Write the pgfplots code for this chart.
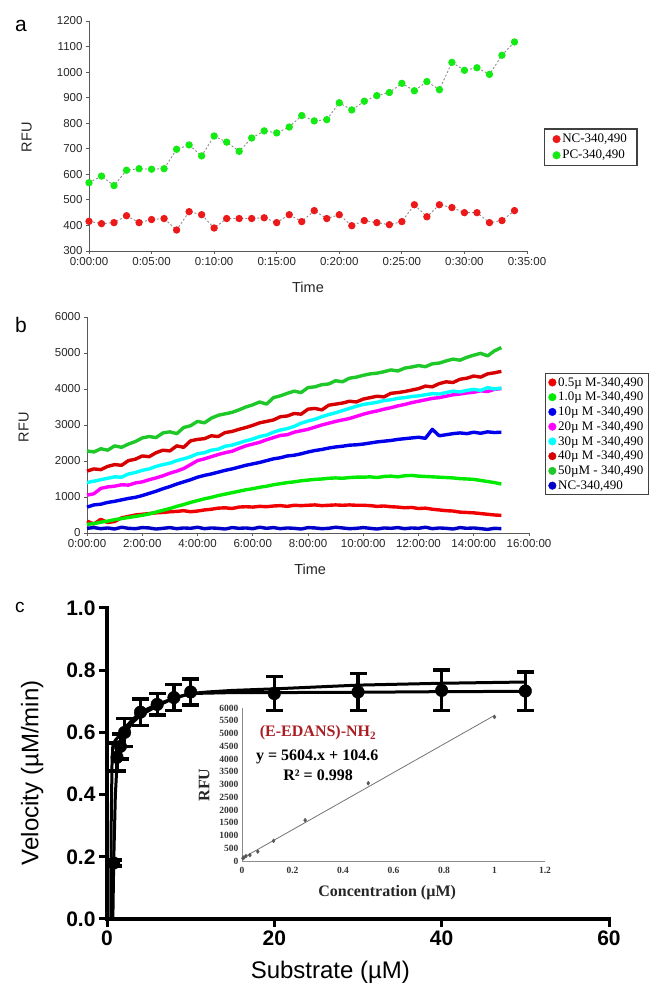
\documentclass[border=0pt]{standalone}
\usepackage{pgfplots}
\usepackage{pgfplotstable}
\pgfplotsset{compat=1.18}
\usepackage{fontspec}
\setmainfont{Liberation Sans}
\newfontfamily\tnr{Liberation Serif}

\definecolor{nred}{RGB}{235,25,25}
\definecolor{ngreen}{RGB}{20,235,20}
\definecolor{c05}{RGB}{240,0,0}
\definecolor{c1}{RGB}{0,235,0}
\definecolor{c10}{RGB}{0,0,235}
\definecolor{c20}{RGB}{255,0,255}
\definecolor{c30}{RGB}{0,255,255}
\definecolor{c40}{RGB}{215,0,0}
\definecolor{c50}{RGB}{30,200,40}
\definecolor{cnc}{RGB}{0,0,200}
\definecolor{edans}{RGB}{170,30,35}

% panel a: minutes, NC and PC
\pgfplotstableread{
t nc pc
0 416 567
1 407 593
2 411 556
3 438 616
4 411 622
5 423 620
6 427 622
7 382 698
8 454 715
9 442 672
10 390 750
11 427 726
12 427 690
13 427 742
14 430 770
15 411 762
16 442 785
17 415 830
18 458 809
19 427 814
20 442 880
21 399 852
22 419 886
23 411 908
24 403 920
25 415 956
26 481 927
27 434 963
28 481 931
29 470 1038
30 450 1007
31 450 1017
32 411 991
33 419 1066
34 458 1118
}\adata

% panel b: hours
\pgfplotstableread{
t a05 a1 a10 a20 a30 a40 a50 nc
0.00 330 240 720 1050 1400 1720 2280 130
0.25 250 260 780 1090 1440 1780 2250 150
0.50 380 300 800 1240 1480 1760 2340 120
0.75 290 330 850 1280 1520 1850 2300 140
1.00 320 370 880 1300 1560 1900 2420 110
1.25 420 400 920 1340 1550 1880 2380 160
1.50 460 430 960 1330 1640 2010 2470 130
1.75 500 460 990 1390 1680 2050 2540 120
2.00 520 490 1040 1420 1740 2140 2640 150
2.25 540 530 1100 1480 1780 2120 2680 140
2.50 560 580 1160 1530 1850 2230 2650 110
2.75 570 630 1230 1590 1900 2300 2780 130
3.00 590 680 1290 1660 1940 2280 2810 150
3.25 600 740 1360 1720 2010 2420 2760 120
3.50 620 790 1420 1790 2060 2380 2930 140
3.75 590 850 1480 1900 2120 2560 2980 130
4.00 610 900 1550 2010 2200 2600 3100 160
4.25 640 950 1600 2060 2230 2620 3060 120
4.50 660 990 1640 2120 2300 2700 3190 140
4.75 690 1040 1690 2180 2330 2680 3270 130
5.00 700 1080 1740 2230 2410 2790 3310 110
5.25 680 1120 1780 2270 2440 2820 3350 150
5.50 720 1160 1830 2350 2500 2880 3420 130
5.75 730 1200 1880 2420 2560 2930 3500 140
6.00 720 1230 1920 2470 2610 2990 3560 120
6.25 740 1270 1960 2520 2680 3060 3640 160
6.50 730 1300 2010 2590 2720 3100 3580 130
6.75 750 1340 2060 2650 2800 3140 3760 150
7.00 760 1370 2090 2710 2860 3230 3810 120
7.25 740 1400 2140 2730 2900 3250 3880 140
7.50 770 1420 2160 2800 2960 3320 3940 130
7.75 760 1450 2200 2840 3050 3300 3900 110
8.00 770 1470 2250 2880 3110 3440 4040 150
8.25 780 1490 2290 2940 3160 3460 4060 140
8.50 760 1500 2320 3000 3230 3420 4120 120
8.75 770 1520 2360 3050 3290 3550 4140 130
9.00 780 1530 2390 3100 3340 3580 4230 160
9.25 770 1520 2410 3140 3400 3610 4200 140
9.50 780 1540 2440 3180 3460 3660 4300 120
9.75 770 1550 2450 3240 3520 3640 4330 130
10.00 770 1550 2470 3300 3570 3720 4380 150
10.25 760 1560 2500 3350 3600 3760 4420 130
10.50 740 1540 2530 3390 3630 3800 4440 110
10.75 750 1570 2550 3440 3680 3780 4480 140
11.00 730 1580 2570 3480 3700 3880 4530 130
11.25 720 1560 2600 3530 3740 3900 4500 150
11.50 700 1590 2620 3570 3760 3930 4580 120
11.75 710 1600 2640 3620 3790 3970 4610 140
12.00 680 1580 2660 3660 3810 4010 4650 130
12.25 690 1570 2630 3700 3840 4080 4620 160
12.50 660 1560 2880 3740 3870 4060 4700 120
12.75 640 1550 2700 3760 3860 4150 4720 140
13.00 620 1540 2730 3800 3900 4200 4780 130
13.25 610 1530 2760 3840 3940 4180 4830 110
13.50 580 1510 2780 3860 3920 4270 4800 150
13.75 570 1500 2760 3890 3960 4300 4880 130
14.00 560 1490 2800 3910 3990 4360 4940 140
14.25 540 1460 2770 3950 3960 4330 4990 120
14.50 520 1430 2810 3930 4040 4420 4920 100
14.75 500 1400 2790 3990 4000 4450 5060 130
15.00 490 1360 2800 4010 4030 4490 5150 120
}\bdata

\begin{document}
\begin{tikzpicture}
\useasboundingbox (0,0) rectangle (666pt,998pt);

\node[font=\fontsize{21}{22}\selectfont] at (21pt,972pt) {a};
\node[font=\fontsize{21}{22}\selectfont] at (21pt,673pt) {b};
\node[font=\fontsize{19}{20}\selectfont] at (20pt,391pt) {c};

% ---------------- panel a
\begin{axis}[
	at={(89pt,747pt)}, anchor=south west,
	scale only axis, width=438pt, height=230pt,
	xmin=0, xmax=35, ymin=300, ymax=1200,
	axis x line=bottom, axis y line=left,
	axis line style={-, black!65, line width=0.9pt},
	tick align=outside, major tick length=3pt,
	tick style={black!65, line width=0.8pt},
	xtick={0,5,...,35},
	xticklabels={0:00:00,0:05:00,0:10:00,0:15:00,0:20:00,0:25:00,0:30:00,0:35:00},
	ytick={300,400,...,1200},
	yticklabels={300,400,500,600,700,800,900,1000,1100,1200},
	tick label style={font=\fontsize{11.5}{12}\selectfont, text=black!85},
	xlabel={Time}, ylabel={RFU},
	label style={font=\fontsize{14.5}{16}\selectfont, text=black!85},
	xlabel style={at={(axis description cs:0.5,-0.158)}, anchor=center},
	ylabel style={at={(axis description cs:-0.142,0.494)}, anchor=center},
	legend style={at={(1.039,0.533)}, anchor=north west, draw=black!75,
		line width=1.3pt, font=\tnr\fontsize{13}{14}\selectfont,
		inner xsep=8pt, inner ysep=3pt, row sep=2pt},
	legend cell align=left,
	clip=false,
]
\addplot[forget plot, black!45, line width=0.9pt, dash pattern=on 2pt off 2pt,
	mark=*, mark size=3.2pt, mark options={solid, fill=nred, draw=nred}]
	table[x=t, y=nc] {\adata};
\addplot[forget plot, black!45, line width=0.9pt, dash pattern=on 2pt off 2pt,
	mark=*, mark size=3.2pt, mark options={solid, fill=ngreen, draw=ngreen}]
	table[x=t, y=pc] {\adata};
\addlegendimage{only marks, mark=*, mark size=3.8pt, nred, line width=0.4pt}
\addlegendentry{NC-340,490}
\addlegendimage{only marks, mark=*, mark size=3.8pt, ngreen, line width=0.4pt}
\addlegendentry{PC-340,490}
\end{axis}

% ---------------- panel b
\begin{axis}[
	at={(87pt,465pt)}, anchor=south west,
	scale only axis, width=442pt, height=216pt,
	xmin=0, xmax=16, ymin=0, ymax=6000,
	axis x line=bottom, axis y line=left,
	axis line style={-, black!65, line width=0.9pt},
	tick align=outside, major tick length=3pt,
	tick style={black!65, line width=0.8pt},
	xtick={0,2,...,16},
	xticklabels={0:00:00,2:00:00,4:00:00,6:00:00,8:00:00,10:00:00,12:00:00,14:00:00,16:00:00},
	ytick={0,1000,...,6000},
	yticklabels={0,1000,2000,3000,4000,5000,6000},
	tick label style={font=\fontsize{11.5}{12}\selectfont, text=black!85},
	xlabel={Time}, ylabel={RFU},
	label style={font=\fontsize{14.5}{16}\selectfont, text=black!85},
	xlabel style={at={(axis description cs:0.505,-0.167)}, anchor=center},
	ylabel style={at={(axis description cs:-0.143,0.49)}, anchor=center},
	legend style={at={(1.036,0.742)}, anchor=north west, draw=black!75,
		line width=1.3pt, font=\tnr\fontsize{13}{14}\selectfont,
		inner xsep=3pt, inner ysep=2pt, row sep=0.6pt},
	legend cell align=left,
	clip=false,
	every axis plot/.append style={forget plot, line width=3.4pt, line join=round},
]
\addplot[c05] table[x=t, y=a05] {\bdata};
\addplot[c1] table[x=t, y=a1] {\bdata};
\addplot[c10] table[x=t, y=a10] {\bdata};
\addplot[c20] table[x=t, y=a20] {\bdata};
\addplot[c30] table[x=t, y=a30] {\bdata};
\addplot[c40] table[x=t, y=a40] {\bdata};
\addplot[c50] table[x=t, y=a50] {\bdata};
\addplot[cnc] table[x=t, y=nc] {\bdata};
\addlegendimage{only marks, mark=*, mark size=3.8pt, c05, line width=0.4pt}
\addlegendentry{0.5µ M-340,490}
\addlegendimage{only marks, mark=*, mark size=3.8pt, c1, line width=0.4pt}
\addlegendentry{1.0µ M-340,490}
\addlegendimage{only marks, mark=*, mark size=3.8pt, c10, line width=0.4pt}
\addlegendentry{10µ M -340,490}
\addlegendimage{only marks, mark=*, mark size=3.8pt, c20, line width=0.4pt}
\addlegendentry{20µ M -340,490}
\addlegendimage{only marks, mark=*, mark size=3.8pt, c30, line width=0.4pt}
\addlegendentry{30µ M -340,490}
\addlegendimage{only marks, mark=*, mark size=3.8pt, c40, line width=0.4pt}
\addlegendentry{40µ M -340,490}
\addlegendimage{only marks, mark=*, mark size=3.8pt, c50, line width=0.4pt}
\addlegendentry{50µM - 340,490}
\addlegendimage{only marks, mark=*, mark size=3.8pt, cnc, line width=0.4pt}
\addlegendentry{NC-340,490}
\end{axis}

% ---------------- panel c
\begin{axis}[
	at={(107pt,79pt)}, anchor=south west,
	scale only axis, width=502pt, height=311pt,
	xmin=0, xmax=60, ymin=0, ymax=1,
	axis x line=bottom, axis y line=left,
	axis line style={-, black, line width=3.5pt, line cap=rect},
	tick align=outside, major tick length=8pt,
	tick style={black, line width=3pt},
	xtick={0,20,40,60}, xticklabels={0,20,40,60},
	ytick={0,0.2,0.4,0.6,0.8,1}, yticklabels={0.0,0.2,0.4,0.6,0.8,1.0},
	tick label style={font=\fontsize{21}{22}\selectfont\bfseries},
	xlabel={Substrate (µM)}, ylabel={Velocity (µM/min)},
	label style={font=\fontsize{24}{26}\selectfont},
	xlabel style={at={(axis description cs:0.445,-0.17)}, anchor=center},
	ylabel style={at={(axis description cs:-0.149,0.47)}, anchor=center},
	clip=false,
]
\addplot[black, line width=3pt, line join=round] coordinates {
	(0.45,0) (0.5,0.3) (0.6,0.5) (0.7,0.56) (1,0.575) (1.5,0.59) (2,0.61)
	(3,0.64) (4,0.665) (6,0.69) (8,0.71) (10,0.725) (12,0.73) (15,0.735)
	(20,0.74) (30,0.752) (40,0.758) (50,0.762)
};
\addplot[black, line width=3pt, line join=round] coordinates {
	(0.7,0) (0.8,0.18) (1.0,0.4) (1.2,0.5) (1.6,0.55) (2,0.59) (3,0.63)
	(4,0.655) (6,0.685) (8,0.71) (10,0.725) (15,0.728) (20,0.728)
	(30,0.729) (40,0.731) (50,0.732)
};
% mean velocities with SD bars
\addplot[only marks, mark=*, mark size=6.3pt, black,
	error bars/.cd, y dir=both, y explicit, error mark=none,
	error bar style={line width=3.2pt, black}]
coordinates {
	(0.8,0.18) +- (0,0.01)
	(1.2,0.52) +- (0,0.045)
	(1.6,0.555) +- (0,0.04)
	(2.1,0.60) +- (0,0.045)
	(4,0.665) +- (0,0.043)
	(6,0.69) +- (0,0.035)
	(8,0.712) +- (0,0.042)
	(10,0.73) +- (0,0.042)
	(20,0.725) +- (0,0.055)
	(30,0.73) +- (0,0.06)
	(40,0.735) +- (0,0.065)
	(50,0.733) +- (0,0.062)
};
% caps at mean +/- SD
\addplot[only marks, mark=-, mark size=8.5pt, black, mark options={line width=3.6pt}]
coordinates {
	(0.8,0.19) (0.8,0.17)
	(1.2,0.565) (1.2,0.475)
	(1.6,0.595) (1.6,0.515)
	(2.1,0.645) (2.1,0.555)
	(4,0.708) (4,0.622)
	(6,0.725) (6,0.655)
	(8,0.754) (8,0.67)
	(10,0.772) (10,0.688)
	(20,0.78) (20,0.67)
	(30,0.79) (30,0.67)
	(40,0.80) (40,0.67)
	(50,0.795) (50,0.671)
};
\end{axis}

% ---------------- inset
\begin{axis}[
	at={(242pt,137pt)}, anchor=south west,
	scale only axis, width=303pt, height=153pt,
	xmin=0, xmax=1.2, ymin=0, ymax=6000,
	axis x line=bottom, axis y line=left,
	axis line style={-, black!45, line width=0.9pt},
	major tick length=0pt,
	xtick={0,0.2,0.4,0.6,0.8,1,1.2}, xticklabels={0,0.2,0.4,0.6,0.8,1,1.2},
	ytick={0,500,...,6000},
	yticklabels={0,500,1000,1500,2000,2500,3000,3500,4000,4500,5000,5500,6000},
	tick label style={font=\tnr\bfseries\fontsize{9.5}{10}\selectfont, text=black!80},
	xticklabel style={yshift=-3pt},
	xlabel={Concentration (µM)}, ylabel={RFU},
	label style={font=\tnr\bfseries\fontsize{16}{17}\selectfont, text=black!85},
	xlabel style={at={(axis description cs:0.479,-0.209)}, anchor=center},
	ylabel style={at={(axis description cs:-0.125,0.497)}, anchor=center},
	clip=false,
]
\addplot[black!55, line width=0.8pt] coordinates {(0,104.6) (1,5708.6)};
\addplot[only marks, mark=diamond*, mark size=2pt, black!65] coordinates {
	(0.0039,110) (0.0078,140) (0.0156,190) (0.03125,230) (0.0625,370)
	(0.125,790) (0.25,1600) (0.5,3050) (1,5650)
};
\node[font=\tnr\bfseries\fontsize{16}{17}\selectfont, text=edans]
	at (axis description cs:0.251,0.837) {(E-EDANS)-NH\textsubscript{2}};
\node[font=\tnr\bfseries\fontsize{16}{17}\selectfont]
	at (axis description cs:0.248,0.68) {y = 5604.x + 104.6};
\node[font=\tnr\bfseries\fontsize{16}{17}\selectfont]
	at (axis description cs:0.251,0.562) {R² = 0.998};
\end{axis}
\end{tikzpicture}
\end{document}
